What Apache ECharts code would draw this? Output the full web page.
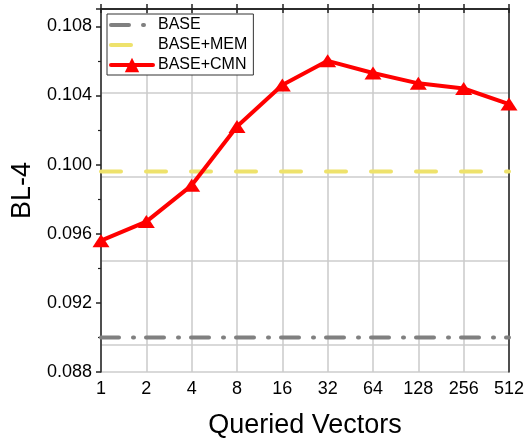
<!DOCTYPE html>
<html>
<head>
<meta charset="utf-8">
<script src="https://cdn.jsdelivr.net/npm/echarts@6/dist/echarts.min.js"></script>
<style>
  html, body { margin: 0; padding: 0; background: #fff; }
  #box { width: 526px; height: 439px; }
</style>
</head>
<body>
<div id="box"></div>
<script>
const categories = ['1', '2', '4', '8', '16', '32', '64', '128', '256', '512'];
const baseValues = [0.0900, 0.0900, 0.0900, 0.0900, 0.0900, 0.0900, 0.0900, 0.0900, 0.0900, 0.0900];
const memValues = [0.0996, 0.0996, 0.0996, 0.0996, 0.0996, 0.0996, 0.0996, 0.0996, 0.0996, 0.0996];
const cmnValues = [0.0956, 0.0967, 0.0988, 0.1022, 0.1046, 0.1060, 0.1053, 0.1047, 0.1044, 0.1035];

const font = 'Liberation Sans, Arial, sans-serif';

const chart = echarts.init(document.getElementById('box'));
chart.setOption({
  animation: false,
  grid: { left: 101, right: 17, top: 9, bottom: 67, outerBoundsMode: 'none' },
  legend: {
    orient: 'vertical',
    left: 107,
    top: 14,
    padding: [3, 6, 2, 2],
    itemWidth: 42,
    itemHeight: 18,
    itemGap: 4,
    borderColor: '#333',
    borderWidth: 1,
    backgroundColor: '#fff',
    lineStyle: { width: 4 },
    textStyle: { fontFamily: font, fontSize: 16, color: '#000' },
    data: [
      { name: 'BASE', itemStyle: { opacity: 0 } },
      { name: 'BASE+MEM', itemStyle: { opacity: 0 } },
      { name: 'BASE+CMN' }
    ]
  },
  xAxis: [
    {
      type: 'category',
      data: categories,
      boundaryGap: false,
      name: 'Queried Vectors',
      nameLocation: 'middle',
      nameGap: 40,
      nameTextStyle: { fontFamily: font, fontSize: 27, color: '#000' },
      axisLine: { lineStyle: { color: '#222', width: 1.5 } },
      axisTick: { inside: true, length: 5, alignWithLabel: true, lineStyle: { color: '#222', width: 1.5 } },
      axisLabel: { fontFamily: font, fontSize: 18, color: '#000', margin: 8 },
      splitLine: { show: true, lineStyle: { color: '#cacaca', width: 1.5 } }
    },
    {
      type: 'category',
      data: categories,
      boundaryGap: false,
      position: 'top',
      axisLine: { lineStyle: { color: '#222', width: 1.5 } },
      axisTick: { inside: true, length: 4, lineStyle: { color: '#222', width: 1.5 } },
      axisLabel: { show: false },
      splitLine: { show: false }
    }
  ],
  yAxis: [
    {
      type: 'value',
      min: 0.088,
      max: 0.109,
      interval: 0.004,
      name: 'BL-4',
      nameLocation: 'middle',
      nameGap: 64,
      nameTextStyle: { fontFamily: font, fontSize: 27, color: '#000' },
      axisLine: { show: true, lineStyle: { color: '#222', width: 1.5 } },
      axisTick: { show: true, length: 5, lineStyle: { color: '#222', width: 1.5 } },
      minorTick: { show: true, splitNumber: 2, length: 3, lineStyle: { color: '#222', width: 1.2 } },
      axisLabel: {
        fontFamily: font, fontSize: 18, color: '#000', margin: 9,
        showMaxLabel: false,
        formatter: v => v.toFixed(3)
      },
      splitLine: { show: false }
    },
    {
      // right frame edge
      type: 'value',
      position: 'right',
      min: 0.088,
      max: 0.109,
      axisLine: { show: true, lineStyle: { color: '#222', width: 1.5 } },
      axisTick: { show: false },
      axisLabel: { show: false },
      splitLine: { show: false }
    },
    {
      // origin's horizontal grid is offset from the tick values,
      // so draw it from a hidden axis counted down from the top
      type: 'value',
      inverse: true,
      min: 0,
      max: 4.325,
      interval: 1,
      axisLine: { show: false },
      axisTick: { show: false },
      axisLabel: { show: false },
      splitLine: { show: true, lineStyle: { color: '#d9d9d9', width: 1.8 } }
    }
  ],
  series: [
    {
      name: 'BASE',
      type: 'line',
      z: 3,
      data: baseValues,
      symbol: 'none',
      lineStyle: { color: '#808080', width: 4, type: [18, 14, 1, 12], cap: 'round' },
      itemStyle: { color: '#808080' }
    },
    {
      name: 'BASE+MEM',
      type: 'line',
      z: 3,
      data: memValues,
      symbol: 'none',
      lineStyle: { color: '#eee26c', width: 4, type: [20, 25], cap: 'round' },
      itemStyle: { color: '#eee26c' }
    },
    {
      name: 'BASE+CMN',
      type: 'line',
      z: 4,
      data: cmnValues,
      symbol: 'triangle',
      symbolSize: [17, 13],
      lineStyle: { color: '#ff0000', width: 4, cap: 'round' },
      itemStyle: { color: '#ff0000' }
    }
  ]
});
</script>
</body>
</html>
